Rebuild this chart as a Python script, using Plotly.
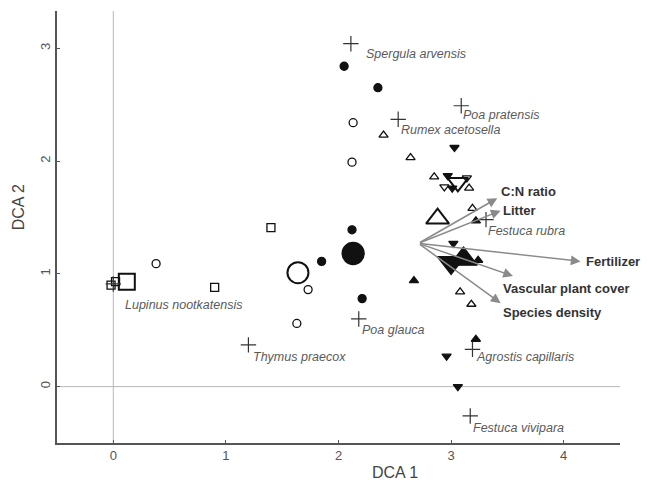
import plotly.graph_objects as go

# ---------------- data ----------------
species_names = ["Spergula arvensis", "Poa pratensis", "Rumex acetosella", "Festuca rubra",
                 "Lupinus nootkatensis", "Poa glauca", "Thymus praecox",
                 "Agrostis capillaris", "Festuca vivipara"]
species_x = [2.11, 3.09, 2.53, 3.31, 0.00, 2.18, 1.20, 3.19, 3.17]
species_y = [3.04, 2.49, 2.37, 1.48, 0.91, 0.60, 0.37, 0.33, -0.26]

filled_circle_x = [2.05, 2.35, 2.12, 1.85, 2.21]
filled_circle_y = [2.84, 2.65, 1.39, 1.11, 0.78]
filled_circle_big_x = [2.13]
filled_circle_big_y = [1.18]

open_circle_x = [2.13, 2.12, 0.38, 1.73, 1.63]
open_circle_y = [2.34, 1.99, 1.09, 0.86, 0.56]
open_circle_big_x = [1.64]
open_circle_big_y = [1.01]

open_square_x = [1.40, 0.90, 0.02, -0.02]
open_square_y = [1.41, 0.88, 0.93, 0.90]
open_square_big_x = [0.12]
open_square_big_y = [0.93]

open_tri_up_x = [2.40, 2.64, 2.85, 3.16, 3.19, 3.08, 3.18]
open_tri_up_y = [2.23, 2.03, 1.86, 1.76, 1.58, 0.84, 0.73]
open_tri_up_big_x = [2.88]
open_tri_up_big_y = [1.49]

filled_tri_up_x = [2.67, 3.24, 3.22, 3.22]
filled_tri_up_y = [0.94, 1.12, 1.47, 0.42]
filled_tri_up_big_x = [3.11]
filled_tri_up_big_y = [1.13]

filled_tri_down_x = [3.03, 3.02, 2.96, 3.06, 2.97, 3.01]
filled_tri_down_y = [2.12, 1.27, 0.27, 0.00, 1.87, 1.76]
filled_tri_down_big_x = [3.00]
filled_tri_down_big_y = [1.10]

open_tri_down_x = [2.94, 3.14]
open_tri_down_y = [1.77, 1.85]
open_tri_down_big_x = [3.06]
open_tri_down_big_y = [1.81]

vector_names = ["C:N ratio", "Litter", "Fertilizer", "Vascular plant cover", "Species density"]
vector_origin = (2.71, 1.27)
vector_x = [3.41, 3.44, 4.15, 3.55, 3.44]
vector_y = [1.67, 1.56, 1.11, 0.98, 0.74]

x_ticks = [0, 1, 2, 3, 4]
y_ticks = [0, 1, 2, 3]

# ---------------- layout helpers ----------------
species_offsets = [(13, -10), (0, -9), (1, -11), (0, -11), (10, -21),
                   (1, -11), (3, -12), (2, -8), (1, -12)]
vector_offsets = [(2, 7), (0, 0), (3, 0), (-12, -12), (0, -9)]

FONT = "Liberation Sans, Arial, sans-serif"
fig = go.Figure()

def add_markers(x, y, symbol, size, lw=1.3):
    fig.add_trace(go.Scatter(
        x=x, y=y, mode="markers", hoverinfo="skip",
        marker=dict(symbol=symbol, size=size, color="#111111",
                    line=dict(color="#111111", width=lw)),
    ))

# reference lines
fig.add_shape(type="line", x0=0, x1=0, y0=-0.5, y1=3.33, xref="x", yref="y",
              line=dict(color="#b8b8b8", width=1), layer="below")
fig.add_shape(type="line", x0=-0.5, x1=4.5, y0=0, y1=0, xref="x", yref="y",
              line=dict(color="#b8b8b8", width=1), layer="below")

add_markers(filled_circle_x, filled_circle_y, "circle", 8)
add_markers(filled_circle_big_x, filled_circle_big_y, "circle", 22)
add_markers(open_circle_x, open_circle_y, "circle-open", 8)
add_markers(open_circle_big_x, open_circle_big_y, "circle-open", 21, lw=2)
add_markers(open_square_x, open_square_y, "square-open", 8)
add_markers(open_square_big_x, open_square_big_y, "square-open", 16, lw=2)
add_markers(open_tri_up_x, open_tri_up_y, "triangle-up-open", 8)
add_markers(open_tri_up_big_x, open_tri_up_big_y, "triangle-up-open", 20, lw=2)
add_markers(filled_tri_up_x, filled_tri_up_y, "triangle-up", 8)
add_markers(filled_tri_up_big_x, filled_tri_up_big_y, "triangle-up", 24)
add_markers(filled_tri_down_x, filled_tri_down_y, "triangle-down", 8)
add_markers(filled_tri_down_big_x, filled_tri_down_big_y, "triangle-down", 24)
add_markers(open_tri_down_x, open_tri_down_y, "triangle-down-open", 8)
add_markers(open_tri_down_big_x, open_tri_down_big_y, "triangle-down-open", 18, lw=2)

# species crosses
fig.add_trace(go.Scatter(
    x=species_x, y=species_y, mode="markers", hoverinfo="skip",
    marker=dict(symbol="cross-thin-open", size=11, color="#333333",
                line=dict(color="#333333", width=1.2)),
))

annotations = []
for name, x, y, (dx, dy) in zip(species_names, species_x, species_y, species_offsets):
    annotations.append(dict(x=x, y=y, xref="x", yref="y", text="<i>" + name + "</i>",
                            showarrow=False, xanchor="left", yanchor="middle",
                            xshift=dx, yshift=dy,
                            font=dict(family=FONT, size=12.5, color="#5a5a5a")))

ox, oy = vector_origin
for name, x, y, (dx, dy) in zip(vector_names, vector_x, vector_y, vector_offsets):
    annotations.append(dict(x=x, y=y, ax=ox, ay=oy, xref="x", yref="y",
                            axref="x", ayref="y", text="", showarrow=True,
                            arrowhead=2, arrowsize=1.3, arrowwidth=1.5,
                            arrowcolor="#8a8a8a"))
    annotations.append(dict(x=x, y=y, xref="x", yref="y", text="<b>" + name + "</b>",
                            showarrow=False, xanchor="left", yanchor="middle",
                            xshift=dx, yshift=dy,
                            font=dict(family=FONT, size=13, color="#333333")))

annotations.append(dict(x=0.60, y=-0.069, xref="paper", yref="paper", text="DCA 1",
                        showarrow=False, xanchor="center", yanchor="middle",
                        font=dict(family=FONT, size=16, color="#444444")))
annotations.append(dict(x=-0.069, y=0.546, xref="paper", yref="paper", text="DCA 2",
                        showarrow=False, xanchor="center", yanchor="middle", textangle=-90,
                        font=dict(family=FONT, size=16, color="#444444")))

fig.update_layout(
    width=648, height=485,
    margin=dict(l=57, r=28, t=11, b=42),
    paper_bgcolor="white", plot_bgcolor="white",
    showlegend=False,
    annotations=annotations,
    font=dict(family=FONT),
)
fig.update_xaxes(range=[-0.5, 4.5], tickvals=x_ticks, showgrid=False, zeroline=False,
                 showline=True, linecolor="#555555", linewidth=1.5,
                 ticks="inside", ticklen=3, tickcolor="#555555",
                 tickfont=dict(family=FONT, size=13, color="#555555"))
fig.update_yaxes(range=[-0.5, 3.33], tickvals=y_ticks, showgrid=False, zeroline=False,
                 showline=True, linecolor="#555555", linewidth=1.5,
                 ticks="inside", ticklen=3, tickcolor="#555555", tickangle=-90,
                 tickfont=dict(family=FONT, size=13, color="#555555"))

fig.write_html("out.html", config={"displayModeBar": False},
               post_script="document.body.style.margin='0';document.body.style.padding='0';")
